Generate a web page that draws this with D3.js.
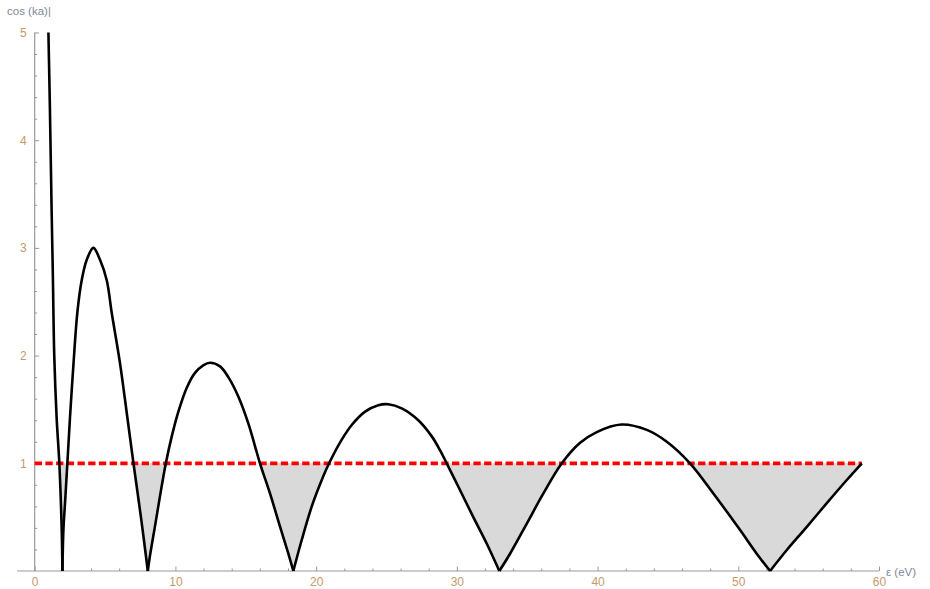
<!DOCTYPE html>
<html>
<head>
<meta charset="utf-8">
<script src="https://cdn.jsdelivr.net/npm/d3@7"></script>
<style>
  html, body { margin: 0; padding: 0; background: #fff; }
  svg { display: block; font-family: "Liberation Sans", Arial, sans-serif; }
</style>
</head>
<body>
<svg id="chart" width="930" height="589"></svg>
<script>
// Energy samples (eV) and |cos(ka)| values along the dispersion curve
const energy = [
  0.975, 1.08, 1.20, 1.29, 1.39, 1.56, 1.75, 1.92, 1.97,
  2.04, 2.15, 2.32, 2.51, 2.76, 3.03, 3.34, 3.70, 4.17, 4.64, 5.12, 5.47, 6.06, 6.58, 7.02, 7.58, 8.04,
  8.19, 8.58, 8.91, 9.32, 9.74, 10.21, 10.80, 11.39, 11.98, 12.46, 13.17, 13.76, 14.47, 15.18, 16.01, 16.72, 17.44, 18.02, 18.38,
  18.98, 19.69, 20.40, 20.92, 21.82, 22.53, 23.48, 24.42, 25.13, 26.08, 27.26, 28.22, 28.81, 29.28, 30.23, 31.17, 32.12, 33.02,
  33.78, 34.97, 36.15, 37.46, 38.76, 39.94, 41.70, 43.50, 44.92, 46.57, 48.23, 50.13, 51.31, 52.26,
  53.45, 54.87, 56.29, 57.71, 58.78
];
const cosKa = [
  5.0, 4.30, 3.37, 2.75, 2.0, 1.42, 1.0, 0.38, 0,
  0.38, 0.62, 1.0, 1.43, 1.93, 2.40, 2.70, 2.89, 3.0, 2.89, 2.70, 2.40, 1.93, 1.43, 1.0, 0.47, 0,
  0.14, 0.44, 0.70, 1.0, 1.25, 1.48, 1.70, 1.84, 1.91, 1.934, 1.90, 1.80, 1.62, 1.37, 1.0, 0.72, 0.41, 0.164, 0,
  0.29, 0.60, 0.845, 1.0, 1.22, 1.356, 1.48, 1.54, 1.548, 1.51, 1.40, 1.25, 1.12, 1.0, 0.75, 0.50, 0.255, 0,
  0.16, 0.44, 0.72, 1.0, 1.19, 1.29, 1.36, 1.31, 1.20, 1.0, 0.72, 0.38, 0.16, 0,
  0.195, 0.41, 0.63, 0.845, 1.0
];
const bandLimit = 1;           // |cos(ka)| = 1 boundary
const xTicks = [0, 10, 20, 30, 40, 50, 60];
const yTicks = [1, 2, 3, 4, 5];
const xLabel = "ε (eV)";
const yLabel = "cos (ka)|";

const svg = d3.select("#chart");
const x = d3.scaleLinear().domain([0, 60]).range([34.7, 879]);
const y = d3.scaleLinear().domain([0, 5]).range([571, 32.5]);

const pts = energy.map((e, i) => ({ e, v: cosKa[i] }));

// split the curve at its zeros so each arch keeps a sharp cusp
const segments = [];
let cur = [];
pts.forEach(p => {
  cur.push(p);
  if (p.v === 0 && cur.length > 1) { segments.push(cur); cur = [p]; }
});
if (cur.length > 1) segments.push(cur);

const smooth = d3.curveCatmullRom.alpha(0.5);
const line = d3.line().x(d => x(d.e)).y(d => y(d.v)).curve(smooth);

// shaded gaps between the curve and the limit line, built as one path
const area = d3.area()
  .x(d => x(d.e))
  .y0(y(bandLimit))
  .y1(d => y(Math.min(d.v, bandLimit)))
  .curve(d3.curveLinear);

const fillPath = segments.map(seg => {
  // sample the smoothed arch so the fill follows the drawn curve
  const host = svg.append("g");
  const node = host.append("path").attr("d", line(seg)).node();
  const len = node.getTotalLength();
  const out = [];
  for (let s = 0; s <= len; s += 0.5) {
    const p = node.getPointAtLength(s);
    out.push({ e: x.invert(p.x), v: y.invert(p.y) });
  }
  const q = node.getPointAtLength(len);
  out.push({ e: x.invert(q.x), v: y.invert(q.y) });
  host.remove();
  out.sort((a, b) => a.e - b.e);
  return area(out);
}).join("");
svg.append("path").attr("d", fillPath).attr("fill", "#d9d9d9");

// axes
const axisColor = "#9a9a9a";
const labelColor = "#c49a6c";
svg.append("line")
  .attr("x1", 17).attr("x2", x(60)).attr("y1", y(0)).attr("y2", y(0))
  .attr("stroke", axisColor).attr("stroke-width", 1.2);
svg.append("line")
  .attr("x1", x(0)).attr("x2", x(0)).attr("y1", y(0)).attr("y2", y(5))
  .attr("stroke", axisColor).attr("stroke-width", 1.2);

const xMinor = d3.range(0, 61, 2).filter(v => v % 10 !== 0);
const xAxisMajor = d3.axisBottom(x).tickValues(xTicks).tickSize(-4.5).tickPadding(6.5).tickFormat(d3.format("d"));
const xAxisMinor = d3.axisBottom(x).tickValues(xMinor).tickSize(-2.5).tickFormat("");
const gxm = svg.append("g").attr("transform", `translate(0,${y(0)})`).call(xAxisMinor);
const gx = svg.append("g").attr("transform", `translate(0,${y(0)})`).call(xAxisMajor);

const yMinor = d3.range(0.2, 5.01, 0.2).filter(v => Math.abs(v - Math.round(v)) > 1e-6);
const yAxisMajor = d3.axisLeft(y).tickValues(yTicks).tickSize(-4.5).tickPadding(8).tickFormat(d3.format("d"));
const yAxisMinor = d3.axisLeft(y).tickValues(yMinor).tickSize(-2.5).tickFormat("");
const gym = svg.append("g").attr("transform", `translate(${x(0)},0)`).call(yAxisMinor);
const gy = svg.append("g").attr("transform", `translate(${x(0)},0)`).call(yAxisMajor);

[gx, gxm, gy, gym].forEach(g => {
  g.select(".domain").remove();
  g.selectAll(".tick line").attr("stroke", axisColor).attr("stroke-width", 1);
  g.selectAll(".tick text").attr("fill", labelColor).attr("font-size", 12)
    .attr("font-family", "'Liberation Sans', Arial, sans-serif");
});

// axis titles
svg.append("text").attr("x", 7).attr("y", 15)
  .attr("fill", "#7f8796").attr("font-size", 11.5).text(yLabel);
svg.append("text").attr("x", 886).attr("y", 576)
  .attr("fill", "#7f8796").attr("font-size", 11.5).text(xLabel);

// limit line
svg.append("line")
  .attr("x1", x(0)).attr("x2", x(energy[energy.length - 1]))
  .attr("y1", y(bandLimit)).attr("y2", y(bandLimit))
  .attr("stroke", "#ff0000").attr("stroke-width", 3.8)
  .attr("stroke-dasharray", "7.3,3.4");

// dispersion curve
svg.append("g").selectAll("path").data(segments).join("path")
  .attr("d", line)
  .attr("fill", "none")
  .attr("stroke", "#000")
  .attr("stroke-width", 2.6)
  .attr("stroke-linejoin", "round");
</script>
</body>
</html>
